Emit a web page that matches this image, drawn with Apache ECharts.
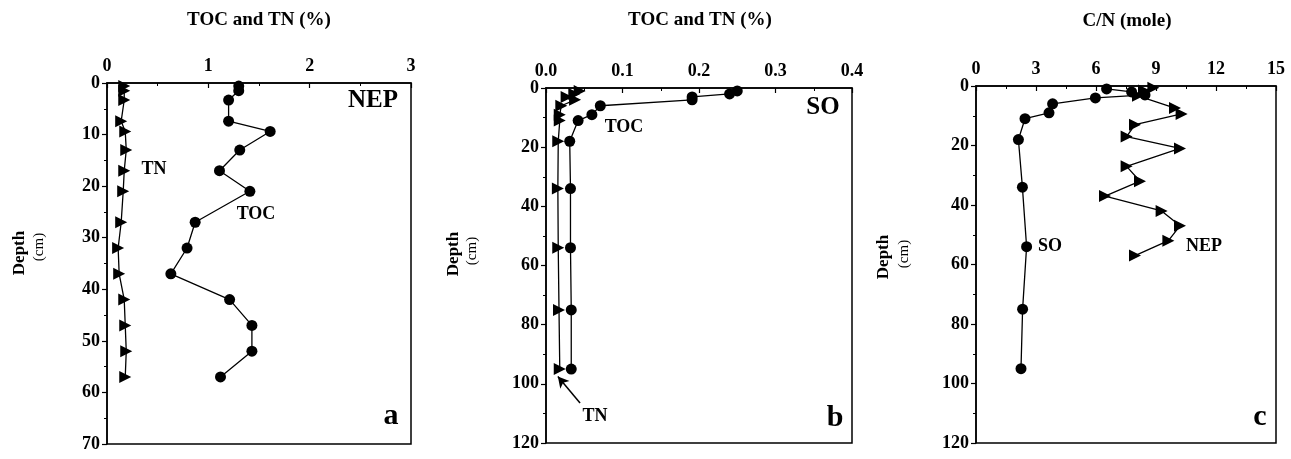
<!DOCTYPE html>
<html>
<head>
<meta charset="utf-8">
<script src="https://cdn.jsdelivr.net/npm/echarts@6/dist/echarts.min.js"></script>
<style>
html,body{margin:0;padding:0;background:#fff}
#main{width:1291px;height:459px}
</style>
</head>
<body>
<div id="main"></div>
<script>
// depths (cm)
var nepDepth = [0.6, 1.5, 3.3, 7.4, 9.4, 13, 17, 21, 27, 32, 37, 42, 47, 52, 57]
var soDepth = [1, 2, 3, 4, 6, 9, 11, 18, 34, 54, 75, 95]

// a: NEP TOC / TN (%)
var nepToc = [1.30, 1.30, 1.20, 1.20, 1.61, 1.31, 1.11, 1.41, 0.87, 0.79, 0.63, 1.21, 1.43, 1.43, 1.12]
var nepTn = [0.17, 0.17, 0.17, 0.14, 0.18, 0.19, 0.17, 0.16, 0.14, 0.11, 0.12, 0.17, 0.18, 0.19, 0.18]

// b: SO TOC / TN (%)
var soToc = [0.250, 0.240, 0.191, 0.191, 0.071, 0.060, 0.042, 0.031, 0.032, 0.032, 0.033, 0.033]
var soTn = [0.044, 0.037, 0.027, 0.038, 0.020, 0.018, 0.018, 0.016, 0.0155, 0.016, 0.017, 0.018]

// c: C/N (mole)
var soCN = [6.53, 7.78, 8.45, 5.97, 3.83, 3.65, 2.45, 2.12, 2.32, 2.53, 2.33, 2.25]
var nepCN = [8.87, 8.4, 8.1, 9.95, 10.28, 7.95, 7.53, 10.2, 7.53, 8.2, 6.45, 9.28, 10.2, 9.62, 7.95]

var font = 'Liberation Serif'

function pairs(xs, ds){
	var out = []
	for (var i = 0; i < xs.length; i++) out.push([xs[i], ds[i]])
	return out
}

function xAx(idx, max, interval, fmt){
	return {
		type: 'value', gridIndex: idx, position: 'top',
		min: 0, max: max, interval: interval,
		axisLine: {show: true, lineStyle: {color: '#000', width: 1.5}},
		axisTick: {show: true, inside: true, length: 5, lineStyle: {color: '#000', width: 1.2}},
		minorTick: {show: true, splitNumber: 2, length: 3, lineStyle: {color: '#000', width: 1}},
		axisLabel: {color: '#000', fontFamily: font, fontWeight: 'bold', fontSize: 18, margin: 8, formatter: fmt},
		splitLine: {show: false}
	}
}
function yAx(idx, max, interval){
	return {
		type: 'value', gridIndex: idx, inverse: true,
		min: 0, max: max, interval: interval,
		axisLine: {show: true, lineStyle: {color: '#000', width: 1.5}},
		axisTick: {show: true, length: 5, lineStyle: {color: '#000', width: 1.2}},
		minorTick: {show: true, splitNumber: 2, length: 3, lineStyle: {color: '#000', width: 1}},
		axisLabel: {color: '#000', fontFamily: font, fontWeight: 'bold', fontSize: 18, margin: 7},
		splitLine: {show: false}
	}
}
function ser(name, idx, data, sym){
	return {
		name: name, type: 'line', xAxisIndex: idx, yAxisIndex: idx,
		data: data,
		symbol: sym,
		symbolSize: sym == 'circle' ? 11 : 12,
		symbolRotate: sym == 'triangle' ? -90 : 0,
		showAllSymbol: true,
		lineStyle: {color: '#000', width: 1.3},
		itemStyle: {color: '#000'},
		silent: true
	}
}
function txt(x, y, s, size, weight, rot){
	return {
		type: 'text', x: x, y: y, rotation: rot || 0,
		style: {text: s, fill: '#000', fontFamily: font, fontSize: size, fontWeight: weight || 'bold',
			align: 'center', verticalAlign: 'middle'}
	}
}

var chart = echarts.init(document.getElementById('main'))
var tnB = ser('TN', 1, pairs(soTn, soDepth), 'triangle')
tnB.markLine = {
	silent: true, symbol: ['none', 'arrow'], symbolSize: [9, 11],
	label: {show: false},
	lineStyle: {color: '#000', width: 1.5, type: 'solid'},
	data: [[{coord: [0.0445, 106.5]}, {coord: [0.0155, 97.5]}]]
}

var option = {
	animation: false,
	grid: [
		{left: 107, top: 83, width: 304, height: 361, show: true, borderColor: '#000', borderWidth: 1.5},
		{left: 546, top: 88, width: 306, height: 355, show: true, borderColor: '#000', borderWidth: 1.5},
		{left: 976, top: 86, width: 300, height: 357, show: true, borderColor: '#000', borderWidth: 1.5}
	],
	xAxis: [
		xAx(0, 3, 1),
		xAx(1, 0.4, 0.1, function(v){ return v.toFixed(1) }),
		xAx(2, 15, 3)
	],
	yAxis: [
		yAx(0, 70, 10),
		yAx(1, 120, 20),
		yAx(2, 120, 20)
	],
	series: [
		ser('TOC', 0, pairs(nepToc, nepDepth), 'circle'),
		ser('TN', 0, pairs(nepTn, nepDepth), 'triangle'),
		ser('TOC', 1, pairs(soToc, soDepth), 'circle'),
		tnB,
		ser('SO', 2, pairs(soCN, soDepth), 'circle'),
		ser('NEP', 2, pairs(nepCN, nepDepth), 'triangle')
	],
	graphic: [
		// titles
		txt(259, 20, 'TOC and TN (%)', 19),
		txt(700, 20, 'TOC and TN (%)', 19),
		txt(1127, 21, 'C/N (mole)', 19),
		// depth labels
		txt(20, 253, 'Depth', 17, 'bold', Math.PI / 2),
		txt(39, 247, '(cm)', 15, 'normal', Math.PI / 2),
		txt(454, 254, 'Depth', 17, 'bold', Math.PI / 2),
		txt(472, 251, '(cm)', 15, 'normal', Math.PI / 2),
		txt(884, 257, 'Depth', 17, 'bold', Math.PI / 2),
		txt(904, 254, '(cm)', 15, 'normal', Math.PI / 2),
		// panel a
		txt(373, 101, 'NEP', 25),
		txt(391, 416, 'a', 30),
		txt(154, 169, 'TN', 18),
		txt(256, 214, 'TOC', 18),
		// panel b
		txt(823, 108, 'SO', 25),
		txt(835, 418, 'b', 30),
		txt(624, 127, 'TOC', 18),
		txt(595, 416, 'TN', 18),
		// panel c
		txt(1260, 417, 'c', 30),
		txt(1050, 246, 'SO', 18),
		txt(1204, 246, 'NEP', 18)
	]
}
chart.setOption(option)
</script>
</body>
</html>
